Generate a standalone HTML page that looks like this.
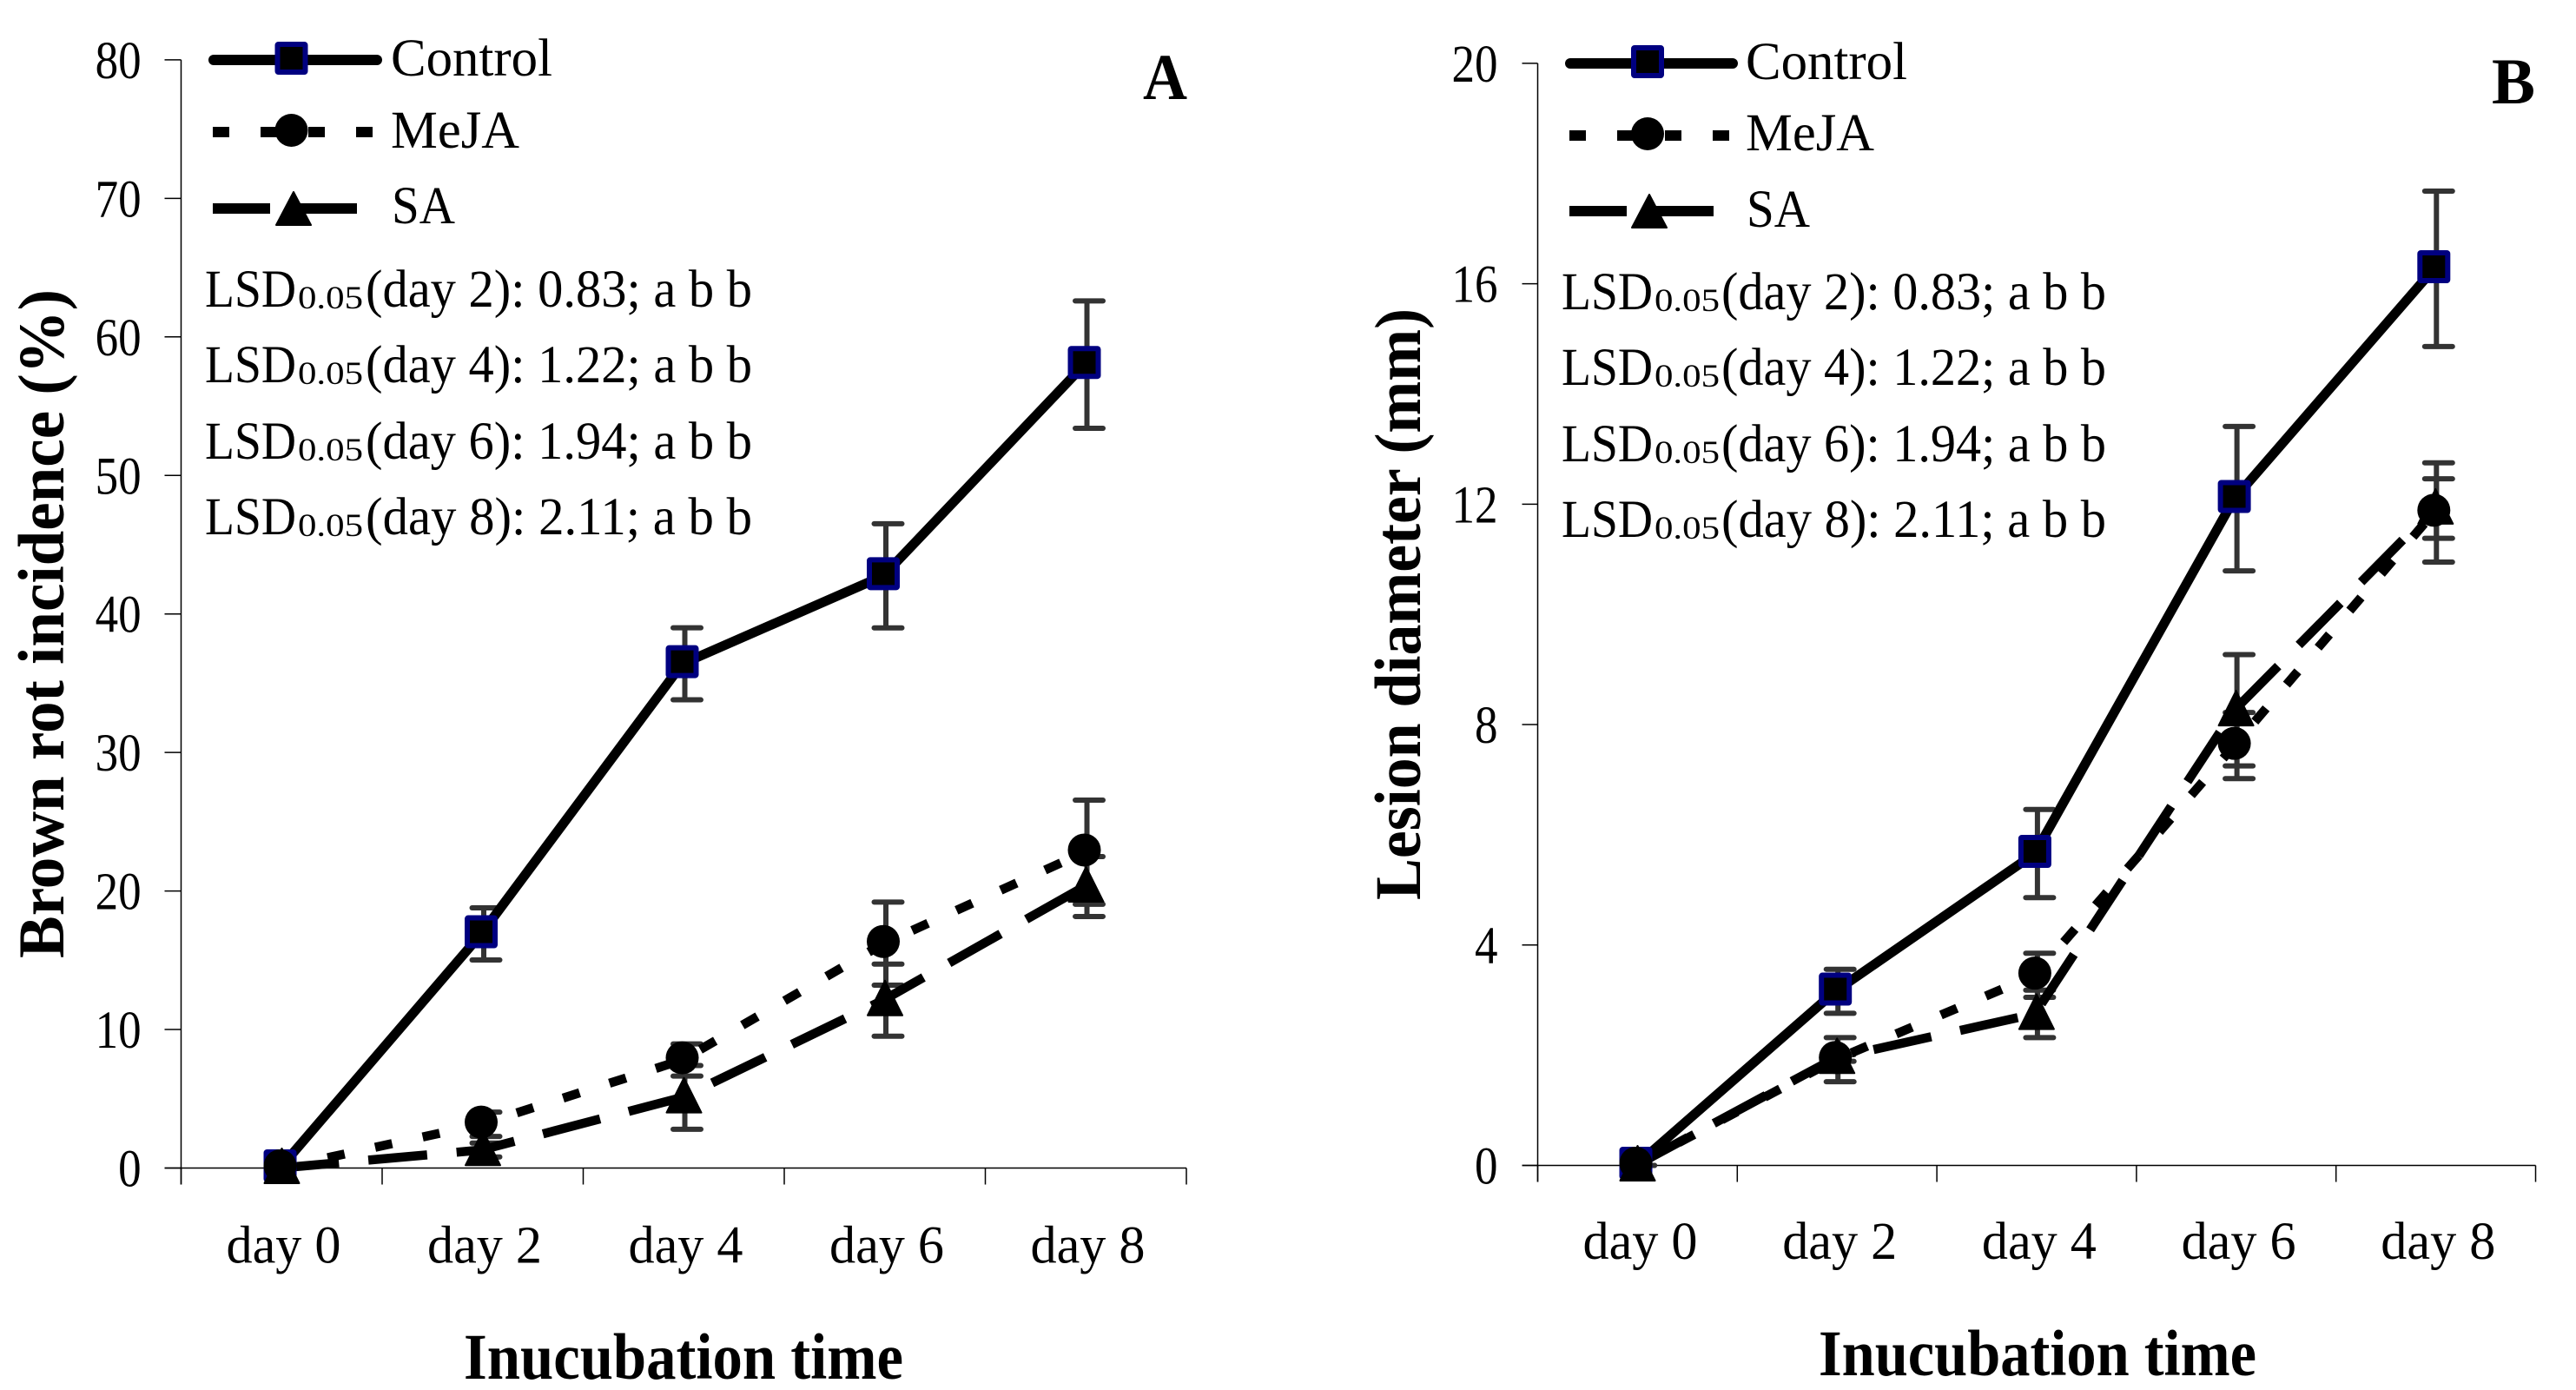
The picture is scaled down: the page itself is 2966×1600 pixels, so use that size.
<!DOCTYPE html>
<html lang="en">
<head>
<meta charset="utf-8">
<title>Brown rot incidence and lesion diameter</title>
<style>
html,body{margin:0;padding:0;background:#fff;width:2966px;height:1600px;overflow:hidden}
svg{display:block}
text{font-family:"Liberation Serif",serif;fill:#000}
.leg{font-size:61px}
.lsd{font-size:61px}
.sub{font-size:37px}
.title{font-size:75px;font-weight:bold}
.letter{font-size:75px;font-weight:bold}
</style>
</head>
<body>
<svg id="chart" xmlns="http://www.w3.org/2000/svg" width="2966" height="1600" viewBox="0 0 2966 1600">
<rect width="2966" height="1600" fill="#fff"/>

<g id="panelA">
  <g id="plotA"></g>
  <text class="title" transform="translate(73,1103) rotate(-90)" textLength="770" lengthAdjust="spacingAndGlyphs">Brown rot incidence (%)</text>
  <text class="title" x="534" y="1587" textLength="506" lengthAdjust="spacingAndGlyphs">Inucubation time</text>
  <text class="letter" x="1316" y="114" textLength="51" lengthAdjust="spacingAndGlyphs">A</text>
  <g>
    <g>
      <line x1="246" y1="69" x2="434" y2="69" stroke="#000" stroke-width="12" stroke-linecap="round"/>
      <rect x="319.5" y="51" width="32" height="32" rx="1" fill="#000" stroke="#000080" stroke-width="6"/>
      <text class="leg" x="450" y="87" textLength="186" lengthAdjust="spacingAndGlyphs">Control</text>
    </g>
    <g>
      <line x1="245" y1="152" x2="430" y2="152" stroke="#000" stroke-width="12" stroke-dasharray="19 36"/>
      <circle cx="335.5" cy="150" r="19" fill="#000"/>
      <text class="leg" x="450" y="170" textLength="148" lengthAdjust="spacingAndGlyphs">MeJA</text>
    </g>
    <g>
      <line x1="245" y1="240" x2="412" y2="240" stroke="#000" stroke-width="12" stroke-dasharray="66 34"/>
      <polygon points="338,221 358,259 318,259" fill="#000" stroke="#000" stroke-width="2" stroke-linejoin="round"/>
      <text class="leg" x="451" y="257" textLength="73" lengthAdjust="spacingAndGlyphs">SA</text>
    </g>
  </g>
  <g>
    <g><text class="lsd" x="236" y="353" textLength="105" lengthAdjust="spacingAndGlyphs">LSD</text><text class="sub" x="343" y="355" textLength="75" lengthAdjust="spacingAndGlyphs">0.05</text><text class="lsd" x="421" y="353" textLength="445" lengthAdjust="spacingAndGlyphs">(day 2): 0.83; a b b</text></g>
    <g><text class="lsd" x="236" y="440" textLength="105" lengthAdjust="spacingAndGlyphs">LSD</text><text class="sub" x="343" y="442" textLength="75" lengthAdjust="spacingAndGlyphs">0.05</text><text class="lsd" x="421" y="440" textLength="445" lengthAdjust="spacingAndGlyphs">(day 4): 1.22; a b b</text></g>
    <g><text class="lsd" x="236" y="528" textLength="105" lengthAdjust="spacingAndGlyphs">LSD</text><text class="sub" x="343" y="530" textLength="75" lengthAdjust="spacingAndGlyphs">0.05</text><text class="lsd" x="421" y="528" textLength="445" lengthAdjust="spacingAndGlyphs">(day 6): 1.94; a b b</text></g>
    <g><text class="lsd" x="236" y="615" textLength="105" lengthAdjust="spacingAndGlyphs">LSD</text><text class="sub" x="343" y="617" textLength="75" lengthAdjust="spacingAndGlyphs">0.05</text><text class="lsd" x="421" y="615" textLength="445" lengthAdjust="spacingAndGlyphs">(day 8): 2.11; a b b</text></g>
  </g>
</g>

<g id="panelB">
  <g id="plotB"></g>
  <text class="title" transform="translate(1635,1036) rotate(-90)" textLength="681" lengthAdjust="spacingAndGlyphs">Lesion diameter (mm)</text>
  <text class="title" x="2094" y="1583" textLength="504" lengthAdjust="spacingAndGlyphs">Inucubation time</text>
  <text class="letter" x="2869" y="119" textLength="50" lengthAdjust="spacingAndGlyphs">B</text>
  <g>
    <g>
      <line x1="1808" y1="73" x2="1995" y2="73" stroke="#000" stroke-width="12" stroke-linecap="round"/>
      <rect x="1881" y="55" width="32" height="32" rx="1" fill="#000" stroke="#000080" stroke-width="6"/>
      <text class="leg" x="2010" y="91" textLength="186" lengthAdjust="spacingAndGlyphs">Control</text>
    </g>
    <g>
      <line x1="1807" y1="156" x2="1992" y2="156" stroke="#000" stroke-width="12" stroke-dasharray="19 36"/>
      <circle cx="1897" cy="154" r="19" fill="#000"/>
      <text class="leg" x="2010" y="173" textLength="148" lengthAdjust="spacingAndGlyphs">MeJA</text>
    </g>
    <g>
      <line x1="1807" y1="243" x2="1974" y2="243" stroke="#000" stroke-width="12" stroke-dasharray="66 34"/>
      <polygon points="1899,224 1919,262 1879,262" fill="#000" stroke="#000" stroke-width="2" stroke-linejoin="round"/>
      <text class="leg" x="2011" y="261" textLength="73" lengthAdjust="spacingAndGlyphs">SA</text>
    </g>
  </g>
  <g>
    <g><text class="lsd" x="1798" y="356" textLength="105" lengthAdjust="spacingAndGlyphs">LSD</text><text class="sub" x="1905" y="358" textLength="75" lengthAdjust="spacingAndGlyphs">0.05</text><text class="lsd" x="1982" y="356" textLength="443" lengthAdjust="spacingAndGlyphs">(day 2): 0.83; a b b</text></g>
    <g><text class="lsd" x="1798" y="443" textLength="105" lengthAdjust="spacingAndGlyphs">LSD</text><text class="sub" x="1905" y="445" textLength="75" lengthAdjust="spacingAndGlyphs">0.05</text><text class="lsd" x="1982" y="443" textLength="443" lengthAdjust="spacingAndGlyphs">(day 4): 1.22; a b b</text></g>
    <g><text class="lsd" x="1798" y="531" textLength="105" lengthAdjust="spacingAndGlyphs">LSD</text><text class="sub" x="1905" y="533" textLength="75" lengthAdjust="spacingAndGlyphs">0.05</text><text class="lsd" x="1982" y="531" textLength="443" lengthAdjust="spacingAndGlyphs">(day 6): 1.94; a b b</text></g>
    <g><text class="lsd" x="1798" y="618" textLength="105" lengthAdjust="spacingAndGlyphs">LSD</text><text class="sub" x="1905" y="620" textLength="75" lengthAdjust="spacingAndGlyphs">0.05</text><text class="lsd" x="1982" y="618" textLength="443" lengthAdjust="spacingAndGlyphs">(day 8): 2.11; a b b</text></g>
  </g>
</g>
</svg>

<script>
var categories = ['day 0', 'day 2', 'day 4', 'day 6', 'day 8'];

var yTicksA = [0, 10, 20, 30, 40, 50, 60, 70, 80];
var controlA = [0, 16.9, 36.4, 42.75, 58.0];
var mejaA = [0, 3.16, 7.8, 16.2, 22.8];
var saA = [0, 1.3, 5.1, 12.12, 20.32];
var controlErrA = [0, 1.88, 2.6, 3.76, 4.6];
var mejaErrA = [0, 0.88, 1.16, 3.0, 3.76];
var saErrA = [0, 0.5, 2.3, 2.6, 2.16];

var yTicksB = [0, 4, 8, 12, 16, 20];
var controlB = [0, 3.16, 5.66, 12.1, 16.27];
var mejaB = [0, 1.92, 3.45, 7.62, 11.85];
var saB = [0, 1.95, 2.75, 8.26, 11.92];
var controlErrB = [0, 0.4, 0.8, 1.31, 1.41];
var mejaErrB = [0, 0.4, 0.4, 0.6, 0.9];
var saErrB = [0, 0.06, 0.43, 1.01, 0.54];

var NS = 'http://www.w3.org/2000/svg';

function node(parent, tag, attrs) {
  var el = document.createElementNS(NS, tag);
  for (var k in attrs) {
    el.setAttribute(k, attrs[k]);
  }
  parent.appendChild(el);
  return el;
}

function drawAxes(root, cfg, ticks, maxV) {
  var axisGroup = node(root, 'g', {});
  
  

  var yAxis = node(axisGroup, 'line', {x1: cfg.left, y1: cfg.yScale(maxV), x2: cfg.left, y2: cfg.bottom + 19, stroke: '#000', 'stroke-width': 1.5});
  
  

  var xAxis = node(axisGroup, 'line', {x1: cfg.tickLeft, y1: cfg.bottom, x2: cfg.left + cfg.band * categories.length, y2: cfg.bottom, stroke: '#000', 'stroke-width': 1.5});
  
  

  ticks.forEach(function (t) {
    var ty = cfg.yScale(t);
    var tick = node(axisGroup, 'line', {x1: cfg.tickLeft, y1: ty, x2: cfg.left, y2: ty, stroke: '#000', 'stroke-width': 1.5});
    
    

    var label = String(t);
    var w = label.length * 26.5;
    var tl = node(axisGroup, 'text', {x: cfg.labelRight - w, y: ty + 21, 'font-size': 61, textLength: w, lengthAdjust: 'spacingAndGlyphs'});
    tl.textContent = label;
    
    
  });

  for (var i = 0; i <= categories.length; i++) {
    var tx = cfg.left + cfg.band * i;
    var xt = node(axisGroup, 'line', {x1: tx, y1: cfg.bottom, x2: tx, y2: cfg.bottom + 19, stroke: '#000', 'stroke-width': 1.5});
    
    
  }

  categories.forEach(function (c, i) {
    var cl = node(axisGroup, 'text', {x: cfg.xScale(i) + cfg.labelShift - 66, y: cfg.xLabelY, 'font-size': 61, textLength: 132, lengthAdjust: 'spacingAndGlyphs'});
    cl.textContent = c;
    
    
  });
}

function drawErrors(root, cfg, values, errs) {
  var g = node(root, 'g', {stroke: '#333', 'stroke-width': 6, 'stroke-linecap': 'round'});
  
  
  values.forEach(function (v, i) {
    var bx = cfg.xScale(i) + 3;
    var cx = cfg.xScale(i) + 5.5;
    var top = cfg.yScale(v + errs[i]);
    var bot = cfg.yScale(v - errs[i]);
    var bar = node(g, 'line', {x1: bx, y1: top, x2: bx, y2: bot, 'stroke-linecap': 'butt'});
    
    
    var capTop = node(g, 'line', {x1: cx - 16, y1: top, x2: cx + 16, y2: top});
    
    
    var capBot = node(g, 'line', {x1: cx - 16, y1: bot, x2: cx + 16, y2: bot});
    
    
  });
}

function linePoints(cfg, values) {
  return values.map(function (v, i) {
    return cfg.xScale(i) + ',' + cfg.yScale(v);
  }).join(' ');
}

function drawLine(root, cfg, values, dash, name) {
  var attrs = {points: linePoints(cfg, values), fill: 'none', stroke: '#000', 'stroke-width': dash ? 10.5 : 11, 'stroke-linejoin': 'round'};
  if (dash) {
    attrs['stroke-dasharray'] = dash;
  }
  var pl = node(root, 'polyline', attrs);
  
  
}

function drawSquares(root, cfg, values) {
  values.forEach(function (v, i) {
    var px = cfg.xScale(i);
    var py = cfg.yScale(v) + cfg.markDy;
    var m = node(root, 'rect', {x: px - 16, y: py - 16, width: 32, height: 32, rx: 1, fill: '#000', stroke: '#000080', 'stroke-width': 6});
    
    
  });
}

function drawCircles(root, cfg, values) {
  values.forEach(function (v, i) {
    var px = cfg.xScale(i);
    var py = cfg.yScale(v) + cfg.markDy;
    var m = node(root, 'circle', {cx: px, cy: py, r: 19, fill: '#000'});
    
    
  });
}

function drawTriangles(root, cfg, values) {
  values.forEach(function (v, i) {
    var px = cfg.xScale(i) + 2;
    var py = cfg.yScale(v) + cfg.markDy;
    var pts = px + ',' + (py - 20) + ' ' + (px + 20) + ',' + (py + 20) + ' ' + (px - 20) + ',' + (py + 20);
    var m = node(root, 'polygon', {points: pts, fill: '#000', stroke: '#000', 'stroke-width': 2, 'stroke-linejoin': 'round'});
    
    
  });
}

var cfgA = {
  left: 208.5, bottom: 1344.5, band: 231.5, tickLeft: 189.5, labelRight: 162.6, xLabelY: 1453.6, labelShift: 4, markDy: -2.5,
  xScale: function (i) { return 322.5 + 231.5 * i; },
  yScale: function (v) { return 1344.5 - v * 15.945; }
};

var cfgB = {
  left: 1770.5, bottom: 1341.5, band: 229.8, tickLeft: 1752.5, labelRight: 1724.5, xLabelY: 1449, labelShift: 5, markDy: -2.5,
  xScale: function (i) { return 1883.5 + 229.7 * i; },
  yScale: function (v) { return 1341.5 - v * 63.43; }
};

var plotA = document.getElementById('plotA');
drawAxes(plotA, cfgA, yTicksA, 80);
drawErrors(plotA, cfgA, controlA, controlErrA);
drawErrors(plotA, cfgA, mejaA, mejaErrA);
drawErrors(plotA, cfgA, saA, saErrA);
drawLine(plotA, cfgA, controlA, null, 'control-line');
drawLine(plotA, cfgA, mejaA, '20 36', 'meja-line');
drawLine(plotA, cfgA, saA, '68 34', 'sa-line');
drawSquares(plotA, cfgA, controlA);
drawCircles(plotA, cfgA, mejaA);
drawTriangles(plotA, cfgA, saA);

var plotB = document.getElementById('plotB');
drawAxes(plotB, cfgB, yTicksB, 20);
drawErrors(plotB, cfgB, controlB, controlErrB);
drawErrors(plotB, cfgB, mejaB, mejaErrB);
drawErrors(plotB, cfgB, saB, saErrB);
drawLine(plotB, cfgB, controlB, null, 'control-line');
drawLine(plotB, cfgB, mejaB, '20 36', 'meja-line');
drawLine(plotB, cfgB, saB, '68 34', 'sa-line');
drawSquares(plotB, cfgB, controlB);
drawCircles(plotB, cfgB, mejaB);
drawTriangles(plotB, cfgB, saB);
</script>
</body>
</html>
